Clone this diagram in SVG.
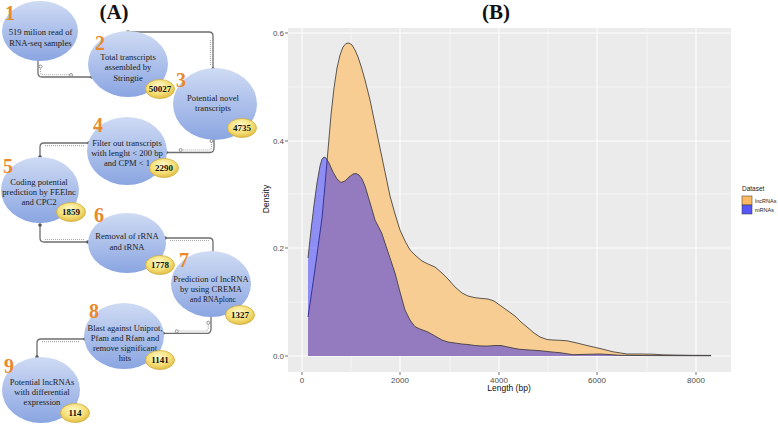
<svg xmlns="http://www.w3.org/2000/svg" width="778" height="425" viewBox="0 0 778 425">
<defs>
<linearGradient id="gBlue" x1="0" y1="0" x2="0" y2="1">
<stop offset="0" stop-color="#CFDBF4"/>
<stop offset="1" stop-color="#8AA5E1"/>
</linearGradient>
<radialGradient id="gGold" cx="0.45" cy="0.35" r="0.65">
<stop offset="0" stop-color="#FFF9C8"/>
<stop offset="0.6" stop-color="#F6E07A"/>
<stop offset="1" stop-color="#E2BE45"/>
</radialGradient>
<style>
.node{fill:url(#gBlue);}
.badge{fill:url(#gGold);stroke:#D2AC3C;stroke-width:0.8;}
.t{font-family:"Liberation Serif",serif;font-size:8.6px;fill:#222;text-anchor:middle;}
.bt{font-family:"Liberation Serif",serif;font-size:9px;font-weight:bold;fill:#111;text-anchor:middle;}
.num{font-family:"Liberation Serif",serif;font-size:20px;font-weight:bold;fill:#E8892E;}
.title{font-family:"Liberation Serif",serif;font-size:21px;font-weight:bold;fill:#111;text-anchor:middle;}
.conn{fill:none;stroke:#6E6E6E;stroke-width:1.3;}
.dotted{fill:none;stroke:#A8A8A8;stroke-width:1.1;stroke-dasharray:1 1;}
.dot{fill:#555;}
.hol{fill:#fff;stroke:#777;stroke-width:0.8;}
.grid{stroke:#fff;stroke-width:1;}
.gridm{stroke:#fff;stroke-width:0.5;}
.tick{stroke:#333;stroke-width:0.7;}
.ax{font-family:"Liberation Sans",Arial,sans-serif;font-size:8px;fill:#4D4D4D;}
.axt{font-family:"Liberation Sans",Arial,sans-serif;font-size:8.5px;fill:#111;}
.leg{font-family:"Liberation Sans",Arial,sans-serif;font-size:5.5px;fill:#222;}
</style>
</defs>
<rect x="0" y="0" width="778" height="425" fill="#fff"/>

<text class="title" x="114" y="19">(A)</text>
<text class="title" x="496" y="19">(B)</text>

<!-- connectors -->
<g id="connectors">
<path class="conn" d="M38,58 V73 Q38,77 42,77 H92"/>
<path class="dotted" d="M40.5,67 V72 Q40.5,74.8 43,74.8 H71"/>
<circle class="hol" cx="40.5" cy="66.5" r="1.5"/><circle class="hol" cx="71" cy="75" r="1.5"/>
<circle class="dot" cx="38" cy="58" r="1.8"/><circle class="dot" cx="92" cy="77" r="1.8"/>

<path class="conn" d="M128,32 H209 Q213,32 213,36 V69"/>
<path class="dotted" d="M210.5,40 V66"/>
<circle class="dot" cx="128" cy="32" r="1.8"/><circle class="dot" cx="213" cy="69" r="1.8"/>

<path class="conn" d="M214,133 V148 Q214,152.5 210,152.5 H166"/>
<path class="dotted" d="M211.5,142 V147 Q211.5,150 209,150 H181"/>
<circle class="hol" cx="211.5" cy="141" r="1.5"/><circle class="hol" cx="180.7" cy="150" r="1.5"/>
<circle class="dot" cx="214" cy="133" r="1.8"/><circle class="dot" cx="166" cy="152.5" r="1.8"/>

<path class="conn" d="M89,143 H44 Q40,143 40,147 V157"/>
<path class="dotted" d="M45,145.6 H85"/>
<circle class="dot" cx="89" cy="143" r="1.8"/><circle class="dot" cx="40" cy="157" r="1.8"/>

<path class="conn" d="M40,225 V238 Q40,242 44,242 H88"/>
<path class="dotted" d="M45,239.5 H85"/>
<circle class="dot" cx="40" cy="225" r="1.8"/><circle class="dot" cx="88" cy="242" r="1.8"/>

<path class="conn" d="M165,238 H209 Q213,238 213,242 V255"/>
<path class="dotted" d="M170,240.5 H210"/>
<circle class="dot" cx="165" cy="238" r="1.8"/><circle class="dot" cx="213" cy="255" r="1.8"/>

<path class="conn" d="M211,314 V329 Q211,333.3 207,333.3 H163"/>
<path class="dotted" d="M208.3,323.5 V328 Q208.3,331 205,331 H177"/>
<circle class="hol" cx="208.3" cy="322.7" r="1.5"/><circle class="hol" cx="176.7" cy="331.3" r="1.5"/>
<circle class="dot" cx="211" cy="314" r="1.8"/><circle class="dot" cx="163" cy="333.3" r="1.8"/>

<path class="conn" d="M85,339 H41 Q37,339 37,343 V357"/>
<path class="dotted" d="M42,341.6 H80"/>
<circle class="dot" cx="85" cy="339" r="1.8"/><circle class="dot" cx="37" cy="357" r="1.8"/>
</g>

<g id="n1">
<ellipse class="node" cx="40" cy="31" rx="38" ry="30"/>
<text class="t" x="40.5" y="35">519 milion read of</text>
<text class="t" x="40.5" y="45.5">RNA-seq samples</text>
<text class="num" x="5" y="20">1</text>
</g>
<g id="n2">
<ellipse class="node" cx="128" cy="64" rx="40" ry="33"/>
<text class="t" x="128" y="60">Total transcripts</text>
<text class="t" x="128" y="70">assembled by</text>
<text class="t" x="128" y="80.5">Stringtie</text>
<text class="num" x="95" y="50">2</text>
<ellipse class="badge" cx="160" cy="89" rx="14.5" ry="9.5"/>
<text class="bt" x="160" y="92">50027</text>
</g>
<g id="n3">
<ellipse class="node" cx="215" cy="104" rx="42" ry="36"/>
<text class="t" x="213" y="101">Potential novel</text>
<text class="t" x="213" y="111">transcripts</text>
<text class="num" x="176" y="87">3</text>
<ellipse class="badge" cx="242" cy="128" rx="14.5" ry="9.5"/>
<text class="bt" x="242" y="131">4735</text>
</g>
<g id="n4">
<ellipse class="node" cx="127" cy="151" rx="40" ry="34"/>
<text class="t" x="127" y="146">Filter out transcripts</text>
<text class="t" x="127" y="156">with lenght &lt; 200 bp</text>
<text class="t" x="127" y="166">and CPM &lt; 1</text>
<text class="num" x="93" y="132">4</text>
<ellipse class="badge" cx="164" cy="168" rx="14.5" ry="9.5"/>
<text class="bt" x="164" y="171">2290</text>
</g>
<g id="n5">
<ellipse class="node" cx="40" cy="190" rx="39" ry="33"/>
<text class="t" x="39" y="185">Coding potential</text>
<text class="t" x="39" y="195">prediction by FEElnc</text>
<text class="t" x="39" y="205">and CPC2</text>
<text class="num" x="3" y="173">5</text>
<ellipse class="badge" cx="71" cy="212" rx="14.5" ry="9.5"/>
<text class="bt" x="71" y="215">1859</text>
</g>
<g id="n6">
<ellipse class="node" cx="127" cy="243" rx="39" ry="30"/>
<text class="t" x="127" y="239">Removal of rRNA</text>
<text class="t" x="127" y="250">and tRNA</text>
<text class="num" x="94" y="222">6</text>
<ellipse class="badge" cx="160" cy="265" rx="14.5" ry="9.5"/>
<text class="bt" x="160" y="268">1778</text>
</g>
<g id="n7">
<ellipse class="node" cx="211" cy="284" rx="40" ry="33"/>
<text class="t" x="211" y="282">Prediction of lncRNA</text>
<text class="t" x="211" y="292">by using CREMA</text>
<text class="t" x="213" y="301.5" style="font-size:7.6px">and RNAplonc</text>
<text class="num" x="179" y="267">7</text>
<ellipse class="badge" cx="240" cy="315" rx="14.5" ry="9.5"/>
<text class="bt" x="240" y="318">1327</text>
</g>
<g id="n8">
<ellipse class="node" cx="124" cy="336" rx="40" ry="33"/>
<text class="t" x="125" y="331">Blast against Uniprot,</text>
<text class="t" x="125" y="341">Pfam and Rfam and</text>
<text class="t" x="125" y="351">remove significant</text>
<text class="t" x="125" y="361">hits</text>
<text class="num" x="89" y="318">8</text>
<ellipse class="badge" cx="160" cy="360" rx="14.5" ry="9.5"/>
<text class="bt" x="160" y="363">1141</text>
</g>
<g id="n9">
<ellipse class="node" cx="41" cy="390" rx="39" ry="33"/>
<text class="t" x="42" y="385">Potential lncRNAs</text>
<text class="t" x="42" y="395">with differential</text>
<text class="t" x="42" y="405">expression</text>
<text class="num" x="4" y="373">9</text>
<ellipse class="badge" cx="75" cy="413" rx="14.5" ry="9.5"/>
<text class="bt" x="75" y="416">114</text>
</g>

<!-- Panel B -->
<g id="plot">
<rect x="288" y="28" width="443" height="344" fill="#EBEBEB"/>
<g>
<line class="gridm" x1="351" y1="28" x2="351" y2="372"/>
<line class="gridm" x1="450" y1="28" x2="450" y2="372"/>
<line class="gridm" x1="548" y1="28" x2="548" y2="372"/>
<line class="gridm" x1="647" y1="28" x2="647" y2="372"/>
<line class="gridm" x1="288" y1="302" x2="731" y2="302"/>
<line class="gridm" x1="288" y1="194" x2="731" y2="194"/>
<line class="gridm" x1="288" y1="87" x2="731" y2="87"/>
<line class="grid" x1="302" y1="28" x2="302" y2="372"/>
<line class="grid" x1="400" y1="28" x2="400" y2="372"/>
<line class="grid" x1="499" y1="28" x2="499" y2="372"/>
<line class="grid" x1="597" y1="28" x2="597" y2="372"/>
<line class="grid" x1="696" y1="28" x2="696" y2="372"/>
<line class="grid" x1="288" y1="356" x2="731" y2="356"/>
<line class="grid" x1="288" y1="248" x2="731" y2="248"/>
<line class="grid" x1="288" y1="141" x2="731" y2="141"/>
<line class="grid" x1="288" y1="33" x2="731" y2="33"/>
</g>
<polygon fill="#F7CD94" points="308,356 308,317 312,290 316,262 319,240 322,218 325,185 328,150 331,115 334,88 337,68 340,55 343,47 346,43.5 349,43 352,45 355,50 358,57 361,66 365,80 370,100 375,124 380,148 385,172 390,196 395,214 400,230 405,241 410,250 416,256 422,261 428,264 435,267 442,273 448,279 455,287 462,293 468,296 475,297.7 482,298.5 488,299 494,301 501,306 508,311 515,316 521,322 527,327 534,333 540,337 547,339.5 553,340 560,340.3 567,340.8 577,343 587,345.5 600,348.5 613,351.8 627,354 640,354 653,354.2 663,354.8 673,355 690,355.3 711,355.4 711,356"/>
<polyline fill="none" stroke="#333" stroke-width="0.8" points="308,317 312,290 316,262 319,240 322,218 325,185 328,150 331,115 334,88 337,68 340,55 343,47 346,43.5 349,43 352,45 355,50 358,57 361,66 365,80 370,100 375,124 380,148 385,172 390,196 395,214 400,230 405,241 410,250 416,256 422,261 428,264 435,267 442,273 448,279 455,287 462,293 468,296 475,297.7 482,298.5 488,299 494,301 501,306 508,311 515,316 521,322 527,327 534,333 540,337 547,339.5 553,340 560,340.3 567,340.8 577,343 587,345.5 600,348.5 613,351.8 627,354 640,354 653,354.2 663,354.8 673,355 690,355.3 711,355.4"/>
<polygon fill="#0000FF" fill-opacity="0.4" points="308,356 308,258 311,230 314,205 317,183 320,166 322,159 324,157 326,158 329,163 333,172 337,179 341,182.5 345,181 349,177 353,174 356,173.5 359,175 362,179 365,186 368,196 371,206 375,220 381.7,233 388,252 395,273 400,292 405,310 410,320 415,326.7 420,329 428,332 435,336 442,340 448,342 455,343 462,344 468,344.5 475,345.5 482,346 488,346 495,345.5 501,345.5 508,347 515,348.5 520,349.3 530,350 540,350.7 550,351.8 560,352.7 567,353.8 573,354.7 587,354.3 600,354 610,354.6 620,355.3 650,355.6 711,356"/>
<polyline fill="none" stroke="#333" stroke-width="0.8" points="308,258 311,230 314,205 317,183 320,166 322,159 324,157 326,158 329,163 333,172 337,179 341,182.5 345,181 349,177 353,174 356,173.5 359,175 362,179 365,186 368,196 371,206 375,220 381.7,233 388,252 395,273 400,292 405,310 410,320 415,326.7 420,329 428,332 435,336 442,340 448,342 455,343 462,344 468,344.5 475,345.5 482,346 488,346 495,345.5 501,345.5 508,347 515,348.5 520,349.3 530,350 540,350.7 550,351.8 560,352.7 567,353.8 573,354.7 587,354.3 600,354 610,354.6 620,355.3 650,355.6 711,355.8"/>
<g>
<line class="tick" x1="285" y1="356" x2="288" y2="356"/>
<line class="tick" x1="285" y1="248" x2="288" y2="248"/>
<line class="tick" x1="285" y1="141" x2="288" y2="141"/>
<line class="tick" x1="285" y1="33" x2="288" y2="33"/>
<line class="tick" x1="302" y1="372" x2="302" y2="375"/>
<line class="tick" x1="400" y1="372" x2="400" y2="375"/>
<line class="tick" x1="499" y1="372" x2="499" y2="375"/>
<line class="tick" x1="597" y1="372" x2="597" y2="375"/>
<line class="tick" x1="696" y1="372" x2="696" y2="375"/>
</g>
<text class="ax" x="284" y="359" text-anchor="end">0.0</text>
<text class="ax" x="284" y="251" text-anchor="end">0.2</text>
<text class="ax" x="284" y="144" text-anchor="end">0.4</text>
<text class="ax" x="284" y="36" text-anchor="end">0.6</text>
<text class="ax" x="302" y="382.5" text-anchor="middle">0</text>
<text class="ax" x="400" y="382.5" text-anchor="middle">2000</text>
<text class="ax" x="499" y="382.5" text-anchor="middle">4000</text>
<text class="ax" x="597" y="382.5" text-anchor="middle">6000</text>
<text class="ax" x="696" y="382.5" text-anchor="middle">8000</text>
<text class="axt" x="509" y="391" text-anchor="middle">Length (bp)</text>
<text class="axt" x="269" y="199" text-anchor="middle" transform="rotate(-90 269 199)">Density</text>
</g>
<g id="legend">
<text class="leg" x="742" y="191" style="font-size:6.5px">Dataset</text>
<rect x="742" y="196" width="10" height="9" fill="#FDB962" stroke="#333" stroke-width="0.5"/>
<rect x="742" y="205" width="10" height="9" fill="#5757F8" stroke="#333" stroke-width="0.5"/>
<text class="leg" x="755" y="202.5">lncRNAs</text>
<text class="leg" x="755" y="211.5">mRNAs</text>
</g>
</svg>
